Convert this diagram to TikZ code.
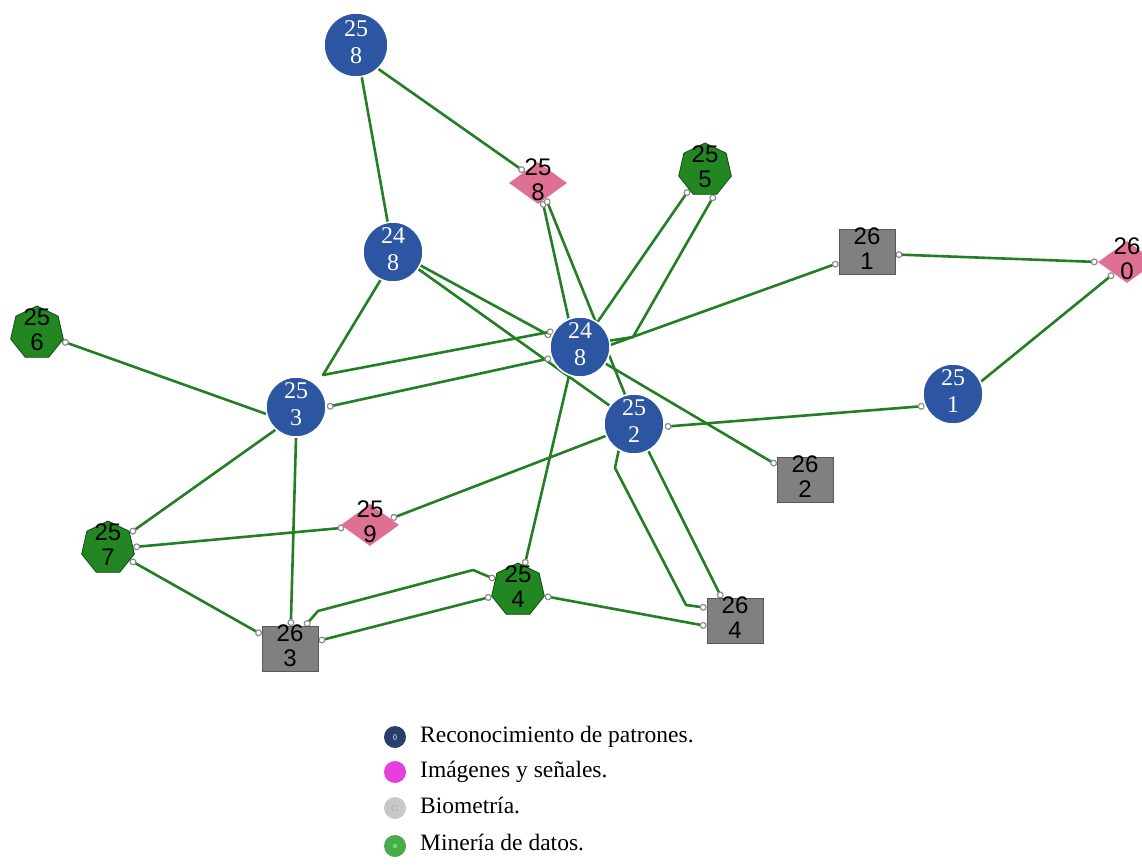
\documentclass[tikz,border=0pt]{standalone}
\usepackage{fontspec}
\setmainfont{Liberation Serif}
\newfontfamily\sansnum{Liberation Sans}
\usepackage{tikz}
\usetikzlibrary{shapes.geometric,arrows.meta,positioning,backgrounds}

\definecolor{patblue}{RGB}{44,86,162}
\definecolor{imgpink}{RGB}{222,112,148}
\definecolor{minegreen}{RGB}{34,135,34}
\definecolor{biogray}{RGB}{128,128,128}
\definecolor{linkgreen}{RGB}{36,126,36}
\definecolor{legnavy}{RGB}{42,62,108}
\definecolor{legpink}{RGB}{232,62,222}
\definecolor{leggray}{RGB}{200,200,200}
\definecolor{leggreen}{RGB}{72,170,72}

% two-line id, no size of its own
\newcommand{\idlab}[2]{\makebox[0pt]{\smash{\raisebox{-.25em}{\begin{tabular}{@{}c@{}}#1\\#2\end{tabular}}}}}

\begin{document}
\begin{tikzpicture}[x=1pt, y=-1pt,
    patnode/.style={circle, fill=patblue, draw=white, line width=1.5pt, minimum size=60pt, inner sep=0pt, text=white, font=\fontsize{24}{27}\selectfont},
    imgnode/.style={diamond, fill=imgpink, minimum width=58pt, minimum height=42pt, inner sep=0pt, font=\sansnum\fontsize{24}{25}\selectfont},
    bionode/.style={rectangle, fill=biogray, draw=black!65, line width=0.8pt, minimum width=56pt, minimum height=45pt, inner sep=0pt, font=\sansnum\fontsize{24}{25}\selectfont},
    minenode/.style={regular polygon, regular polygon sides=7, fill=minegreen, draw=minegreen!55!black, line width=0.8pt, minimum size=54pt, inner sep=0pt, font=\sansnum\fontsize{24}{25}\selectfont},
    link/.style={draw=linkgreen, line width=2.6pt, line join=round},
    mk/.tip={Circle[length=7pt, line width=1.2pt, color=black!45, fill=white]},
    legdot/.style={circle, minimum size=22pt, inner sep=0pt},
    legtext/.style={anchor=base west, inner sep=0pt, font=\fontsize{23.5}{28}\selectfont}]
    \useasboundingbox (0,0) rectangle (1142,867);

    % nodes
    \node[patnode, minimum size=64pt] (A) at (356,45) {\idlab{25}{8}};
    \node[imgnode] (B) at (538,183) {\idlab{25}{8}};
    \node[minenode] (C) at (705,170) {\idlab{25}{5}};
    \node[patnode] (D) at (393,252) {\idlab{24}{8}};
    \node[patnode] (E) at (580,347) {\idlab{24}{8}};
    \node[bionode] (F) at (867,252) {\idlab{26}{1}};
    \node[imgnode] (G) at (1127,262) {\idlab{26}{0}};
    \node[minenode] (H) at (37,333) {\idlab{25}{6}};
    \node[patnode] (I) at (296,407) {\idlab{25}{3}};
    \node[patnode] (J) at (634,424) {\idlab{25}{2}};
    \node[patnode] (K) at (953,394) {\idlab{25}{1}};
    \node[bionode] (L) at (805,480) {\idlab{26}{2}};
    \node[imgnode] (M) at (370,525) {\idlab{25}{9}};
    \node[minenode] (N) at (108,548) {\idlab{25}{7}};
    \node[minenode] (O) at (518,590) {\idlab{25}{4}};
    \node[bionode] (P) at (735,621) {\idlab{26}{4}};
    \node[bionode] (Q) at (290,649) {\idlab{26}{3}};

    % bends of the routed links
    \coordinate (cC) at (633,337);
    \coordinate (cD) at (323,375);
    \coordinate (cJ1) at (615,468);
    \coordinate (cJ2) at (686,605);
    \coordinate (cO1) at (473,570);
    \coordinate (cO2) at (318,611);

    % links
    \begin{scope}[on background layer]
        \fill[white] (0,0) rectangle (1142,867);
        \draw[link] (A) -- (D);
        \draw[link,-mk] (A.-47) -- (B.140);
        \draw[link,-mk] (E.112) -- (B.-76);
        \draw[link,-mk] (J.107) -- (B.-63);
        \draw[link,-mk] (E.55) -- (C.-129);
        \draw[link,-mk] (E.12) -- (cC) -- (C.-69);
        \draw[link,-mk] (D.-26) -- (E.160);
        \draw[link] (D.-34) -- (J.143);
        \draw[link,-mk] (D.-114) -- (cD) -- (E.149);
        \draw[link,mk-mk] (I.0) -- (E.201);
        \draw[link,-mk] (E.4) -- (F.201);
        \draw[link,mk-mk] (F.-5) -- (G.180);
        \draw[link,-mk] (K.24) -- (G.-139);
        \draw[link,mk-mk] (J.-5) -- (K.203);
        \draw[link,-mk] (E.-33) -- (L.152);
        \draw[link,-mk] (J.203) -- (M.17);
        \draw[link,-mk] (E.-111) -- (O.75);
        \draw[link,-mk] (J.-120) -- (cJ1) -- (cJ2) -- (P.155);
        \draw[link,-mk] (J.-62) -- (P.120);
        \draw[link,mk-mk] (O.-13) -- (P.190);
        \draw[link,mk-mk] (O.155) -- (cO1) -- (cO2) -- (Q.57);
        \draw[link,mk-mk] (O.194) -- (Q.16);
        \draw[link,-mk] (I.-90) -- (Q.88);
        \draw[link,-mk] (I.-132) -- (N.34);
        \draw[link,mk-mk] (M.186) -- (N.2);
        \draw[link,mk-mk] (N.-29) -- (Q.153);
        \draw[link,mk-] (H.-18) -- (I.193);
    \end{scope}

    % legend
    \node[legdot, fill=legnavy] (k1) at (395,737) {};
    \node[legdot, fill=legpink] (k2) at (395,772) {};
    \node[legdot, fill=leggray] (k3) at (395,808) {};
    \node[legdot, fill=leggreen] (k4) at (395,846) {};
    \draw[patblue!40, line width=0.7pt] (k1.center) ellipse (1.6pt and 2.6pt);
    \draw[black!30, line width=0.7pt] (k3.center) circle (3pt);
    \fill[green!75!black!60] (k4.center) circle (2.5pt);
    \node[legtext] (t1) at (420,742) {Reconocimiento de patrones.};
    \node[legtext] (t2) at (420,777) {Imágenes y señales.};
    \node[legtext] (t3) at (420,813) {Biometría.};
    \node[legtext] (t4) at (420,850) {Minería de datos.};
\end{tikzpicture}
\end{document}
